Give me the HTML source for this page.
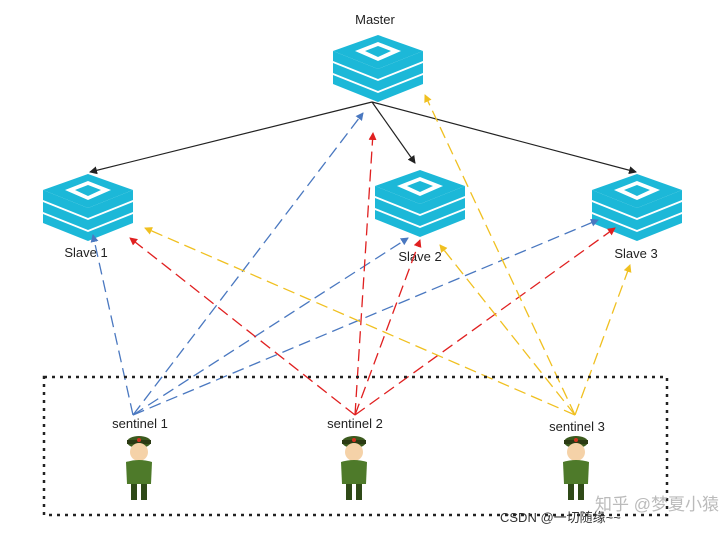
<!DOCTYPE html>
<html><head><meta charset="utf-8"><style>
body{margin:0;background:#fff;}
svg{display:block;font-family:"Liberation Sans","Noto Sans CJK SC",sans-serif;}
</style></head><body>
<svg width="720" height="535" viewBox="0 0 720 535">
<defs>
<g id="ic">
 <polygon points="0,40 45,58 90,40 90,49 45,67 0,49" fill="#1cb8d8"/>
 <polygon points="0,28 45,46 90,28 90,38 45,56 0,38" fill="#1cb8d8"/>
 <polygon points="0,16 45,34 90,16 90,26 45,44 0,26" fill="#1cb8d8"/>
 <polygon points="45,0 90,16 45,34 0,16" fill="#1cb8d8"/>
 <polygon points="45,7 68,16 45,26 22,16" fill="#fff"/>
 <polygon points="45,11 58,16 45,22 32,16" fill="#1cb8d8"/>
</g>
<marker id="ak" markerWidth="8" markerHeight="8" refX="7" refY="4" orient="auto" markerUnits="userSpaceOnUse"><path d="M0,0L8,4L0,8z" fill="#222"/></marker>
<marker id="ab" markerWidth="8" markerHeight="8" refX="7" refY="4" orient="auto" markerUnits="userSpaceOnUse"><path d="M0,0L8,4L0,8z" fill="#4a78c0"/></marker>
<marker id="ar" markerWidth="8" markerHeight="8" refX="7" refY="4" orient="auto" markerUnits="userSpaceOnUse"><path d="M0,0L8,4L0,8z" fill="#e02020"/></marker>
<marker id="ay" markerWidth="8" markerHeight="8" refX="7" refY="4" orient="auto" markerUnits="userSpaceOnUse"><path d="M0,0L8,4L0,8z" fill="#f0c020"/></marker>
<g id="sol">
 <ellipse cx="0" cy="6" rx="12" ry="6" fill="#3c5a1e"/>
 <rect x="-12" y="4" width="24" height="4" fill="#2b3a14"/>
 <circle cx="0" cy="16" r="9" fill="#f5d2a8"/>
 <path d="M-13,26 Q0,22 13,26 L12,48 L-12,48z" fill="#4e7a2a"/>
 <rect x="-8" y="48" width="6" height="16" fill="#2f4a18"/>
 <rect x="2" y="48" width="6" height="16" fill="#2f4a18"/>
 <circle cx="0" cy="4" r="2" fill="#d03020"/>
</g>
</defs>
<text x="375" y="24" font-size="13" text-anchor="middle" fill="#222">Master</text>
<use href="#ic" x="333" y="35"/>
<use href="#ic" x="43" y="174"/>
<use href="#ic" x="375" y="170"/>
<use href="#ic" x="592" y="174"/>
<text x="86" y="257" font-size="13" text-anchor="middle" fill="#222">Slave 1</text>
<text x="420" y="261" font-size="13" text-anchor="middle" fill="#222">Slave 2</text>
<text x="636" y="258" font-size="13" text-anchor="middle" fill="#222">Slave 3</text>
<g stroke="#222" stroke-width="1.2" fill="none">
 <line x1="372" y1="102" x2="90" y2="172" marker-end="url(#ak)"/>
 <line x1="372" y1="102" x2="415" y2="163" marker-end="url(#ak)"/>
 <line x1="372" y1="102" x2="636" y2="172" marker-end="url(#ak)"/>
</g>
<g stroke-width="1.3" fill="none" stroke-dasharray="12,6">
 <g stroke="#4a78c0">
  <line x1="133" y1="415" x2="93" y2="235" marker-end="url(#ab)"/>
  <line x1="133" y1="415" x2="363" y2="113" marker-end="url(#ab)"/>
  <line x1="133" y1="415" x2="408" y2="238" marker-end="url(#ab)"/>
  <line x1="133" y1="415" x2="598" y2="220" marker-end="url(#ab)"/>
 </g>
 <g stroke="#e02020">
  <line x1="355" y1="415" x2="130" y2="238" marker-end="url(#ar)"/>
  <line x1="355" y1="415" x2="373" y2="133" marker-end="url(#ar)"/>
  <line x1="355" y1="415" x2="420" y2="240" marker-end="url(#ar)"/>
  <line x1="355" y1="415" x2="615" y2="228" marker-end="url(#ar)"/>
 </g>
 <g stroke="#f0c020">
  <line x1="575" y1="415" x2="145" y2="228" marker-end="url(#ay)"/>
  <line x1="575" y1="415" x2="425" y2="95" marker-end="url(#ay)"/>
  <line x1="575" y1="415" x2="440" y2="245" marker-end="url(#ay)"/>
  <line x1="575" y1="415" x2="630" y2="265" marker-end="url(#ay)"/>
 </g>
</g>
<rect x="44" y="377" width="623" height="138" fill="none" stroke="#222" stroke-width="2.5" stroke-dasharray="3,5"/>
<text x="140" y="428" font-size="13" text-anchor="middle" fill="#222">sentinel 1</text>
<text x="355" y="428" font-size="13" text-anchor="middle" fill="#222">sentinel 2</text>
<text x="577" y="431" font-size="13" text-anchor="middle" fill="#222">sentinel 3</text>
<use href="#sol" x="139" y="436"/>
<use href="#sol" x="354" y="436"/>
<use href="#sol" x="576" y="436"/>
<text x="595" y="510" font-size="17" fill="#bbb">知乎 @梦夏小猿</text>
<text x="500" y="522" font-size="13" fill="#333">CSDN @一切随缘~~</text>
</svg>
</body></html>
